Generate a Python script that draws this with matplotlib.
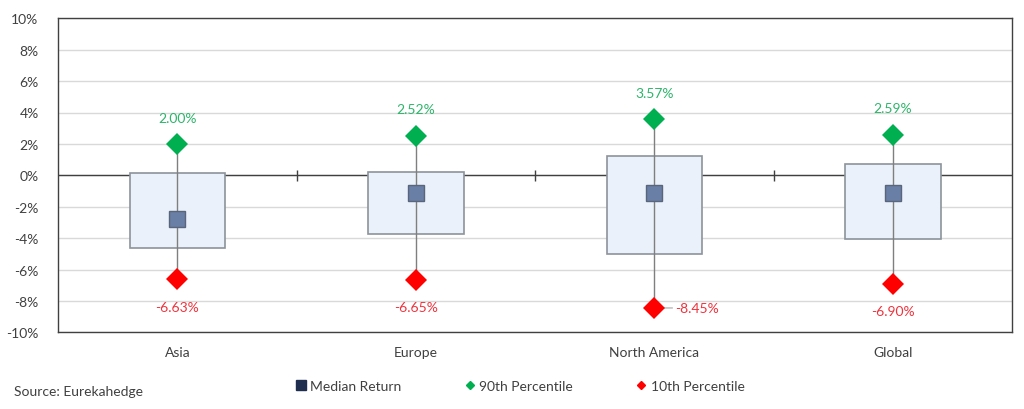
import matplotlib
matplotlib.use("Agg")
import matplotlib.pyplot as plt
from matplotlib.lines import Line2D
from matplotlib.ticker import FuncFormatter
import numpy as np

plt.rcParams['font.family'] = ['Lato', 'DejaVu Sans']

categories = ["Asia", "Europe", "North America", "Global"]
box_top = [0.17, 0.24, 1.23, 0.70]
box_bottom = [-4.60, -3.76, -5.03, -4.03]
median = [-2.76, -1.15, -1.15, -1.15]
p90 = [2.00, 2.52, 3.57, 2.59]
p10 = [-6.63, -6.65, -8.45, -6.90]
yticks = list(range(-10, 11, 2))

GREEN = "#00B050"
RED = "#FF0000"
GREEN_TXT = "#2DB56A"
RED_TXT = "#F0323C"
FS = 10

fig = plt.figure(figsize=(10.24, 4.10), dpi=100)
ax = fig.add_axes([58/1024, 1-333.3/410, (1012.3-58)/1024, (333.3-19.3)/410])

x = np.arange(len(categories))
ax.set_xlim(-0.5, len(categories) - 0.5)
ax.set_ylim(-10, 10)
ax.set_yticks(yticks)
ax.yaxis.set_major_formatter(FuncFormatter(lambda v, p: f"{int(v)}%"))
ax.grid(axis='y', color="#D9D9D9", linewidth=1.0, zorder=0)
ax.set_axisbelow(True)
ax.tick_params(axis='y', length=0, labelsize=FS, colors="#404040", pad=14)
ax.tick_params(axis='x', length=0, labelsize=FS, colors="#404040", pad=10)
ax.set_xticks(x)
ax.set_xticklabels(categories)
for s in ax.spines.values():
    s.set_color("#404040")
    s.set_linewidth(1.0)

# zero line with category-boundary tick marks
ax.axhline(0, color="#404040", linewidth=1.0, zorder=1)
bounds = x[:-1] + 0.5
ax.vlines(bounds, -0.35, 0.35, color="#404040", linewidth=1.0, zorder=1)

# boxes
heights = np.array(box_top) - np.array(box_bottom)
ax.bar(x, heights, bottom=box_bottom, width=0.40, color="#EAF1FA",
       edgecolor="#8C939B", linewidth=1.2, zorder=2)

# whiskers
ax.vlines(x, p10, p90, color="#7F7F7F", linewidth=1.0, zorder=3)

# markers
ax.plot(x, median, linestyle='none', marker='s', markersize=12,
        markerfacecolor="#6A7FA6", markeredgecolor="#59657A", markeredgewidth=1.0, zorder=4)
ax.plot(x, p90, linestyle='none', marker='D', markersize=11,
        color=GREEN, markeredgewidth=0, zorder=5)
ax.plot(x, p10, linestyle='none', marker='D', markersize=11,
        color=RED, markeredgewidth=0, zorder=5)

for i in range(len(categories)):
    ax.annotate(f"{p90[i]:.2f}%", (x[i], p90[i]), xytext=(0, 19), textcoords='offset points',
                ha='center', va='center', color=GREEN_TXT, fontsize=FS)
    if categories[i] == "North America":
        ax.annotate(f"{p10[i]:.2f}%", (x[i], p10[i]), xytext=(15, 0), textcoords='offset points',
                    ha='left', va='center', color=RED_TXT, fontsize=FS,
                    arrowprops=dict(arrowstyle='-', color="#A6A6A6", linewidth=0.8,
                                    shrinkA=0, shrinkB=0))
    else:
        ax.annotate(f"{p10[i]:.2f}%", (x[i], p10[i]), xytext=(0, -20), textcoords='offset points',
                    ha='center', va='center', color=RED_TXT, fontsize=FS)

handles = [
    Line2D([], [], linestyle='none', marker='s', markersize=6.5, markerfacecolor="#1F2D4F",
           markeredgecolor="#1F2D4F", label="Median Return"),
    Line2D([], [], linestyle='none', marker='D', markersize=4.5, color=GREEN, label="90th Percentile"),
    Line2D([], [], linestyle='none', marker='D', markersize=4.5, color=RED, label="10th Percentile"),
]
fig.legend(handles=handles, loc='center', bbox_to_anchor=(520/1024, 1-387/410), ncol=3,
           frameon=False, fontsize=FS, handlelength=0.8, handletextpad=0.3,
           columnspacing=4.5, labelcolor="#404040")

fig.text(14/1024, 1-392/410, "Source: Eurekahedge", ha='left', va='center',
         fontsize=FS, color="#404040")

fig.savefig("out.png", dpi=100)
